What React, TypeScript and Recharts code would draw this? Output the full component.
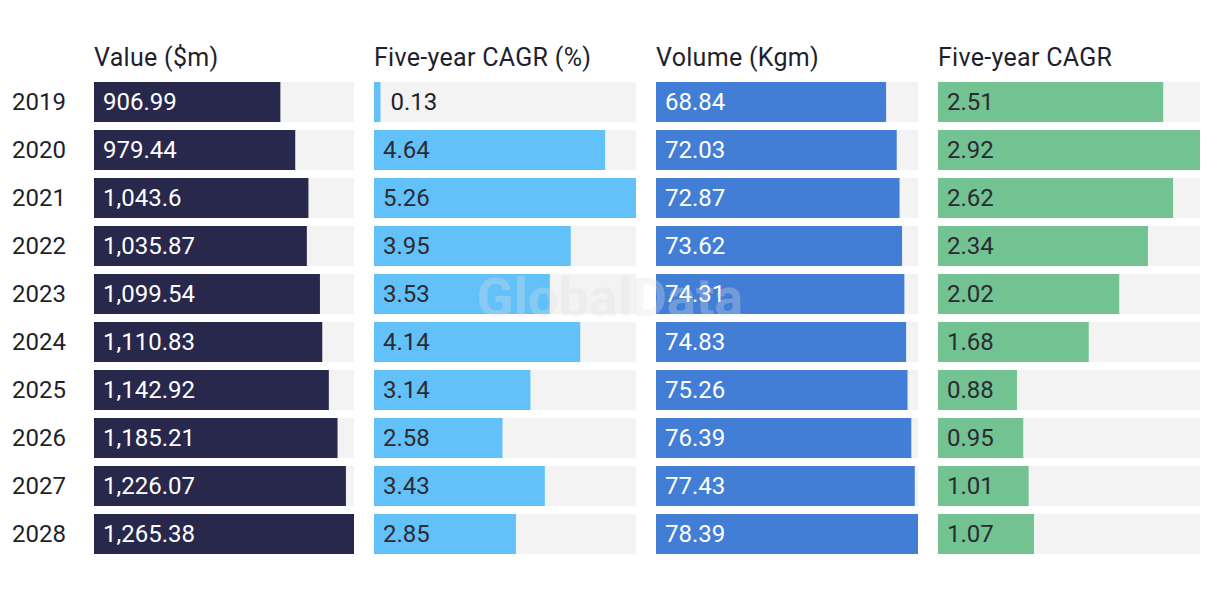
import React from 'react';
import { BarChart, Bar, XAxis, YAxis, LabelList } from 'recharts';

const years = ['2019', '2020', '2021', '2022', '2023', '2024', '2025', '2026', '2027', '2028'];
const marketValue = [906.99, 979.44, 1043.6, 1035.87, 1099.54, 1110.83, 1142.92, 1185.21, 1226.07, 1265.38];
const valueCagr = [0.13, 4.64, 5.26, 3.95, 3.53, 4.14, 3.14, 2.58, 3.43, 2.85];
const marketVolume = [68.84, 72.03, 72.87, 73.62, 74.31, 74.83, 75.26, 76.39, 77.43, 78.39];
const volumeCagr = [2.51, 2.92, 2.62, 2.34, 2.02, 1.68, 0.88, 0.95, 1.01, 1.07];
const headings = ['Value ($m)', 'Five-year CAGR (%)', 'Volume (Kgm)', 'Five-year CAGR'];

const FONT = 'Roboto, "Noto Sans", sans-serif';

const fmt = (v: number) => v.toLocaleString('en-US', { maximumFractionDigits: 2 });

type Panel = {
  title: string;
  values: number[];
  color: string;
  textColor: string;
  left: number;
  width: number;
  showYears: boolean;
};

const panels: Panel[] = [
  { title: headings[0], values: marketValue, color: '#28284c', textColor: '#ffffff', left: 0, width: 354, showYears: true },
  { title: headings[1], values: valueCagr, color: '#63c1f9', textColor: '#2b2b33', left: 374, width: 262, showYears: false },
  { title: headings[2], values: marketVolume, color: '#427ed6', textColor: '#ffffff', left: 656, width: 262, showYears: false },
  { title: headings[3], values: volumeCagr, color: '#72c292', textColor: '#2b2b33', left: 938, width: 262, showYears: false },
];

const YearTick = (props: any) => {
  const { y, payload } = props;
  return (
    <text x={12} y={y} dy="0.32em" fill="#1f1f2e" fontSize={24} fontFamily={FONT} textAnchor="start">
      {payload.value}
    </text>
  );
};

const makeLabel = (textColor: string) => (props: any) => {
  const { x, y, width, height, value } = props;
  const inside = width > 60;
  return (
    <text
      x={inside ? x + 9 : x + width + 10}
      y={y + height / 2}
      dy="0.32em"
      fill={inside ? textColor : '#1f1f2e'}
      fontSize={24}
      fontFamily={FONT}
      textAnchor="start"
    >
      {fmt(Number(value))}
    </text>
  );
};

export default function App() {
  return (
    <div style={{ position: 'absolute', left: 0, top: 0, width: 1220, height: 596, background: '#ffffff', fontFamily: FONT, overflow: 'hidden' }}>
      {panels.map((p, i) => {
        const data = years.map((yr, k) => ({ year: yr, v: p.values[k] }));
        const yW = p.showYears ? 94 : 0;
        return (
          <React.Fragment key={i}>
            <div
              style={{
                position: 'absolute',
                left: p.left + yW,
                top: 43,
                fontSize: 25,
                letterSpacing: '0.3px',
                lineHeight: '30px',
                color: '#1f1f2e',
                whiteSpace: 'nowrap',
              }}
            >
              {p.title}
            </div>
            <div style={{ position: 'absolute', left: p.left, top: 78 }}>
              <BarChart
                width={p.width}
                height={480}
                data={data}
                layout="vertical"
                margin={{ top: 0, right: 0, bottom: 0, left: 0 }}
              >
                <XAxis type="number" hide domain={[0, 'dataMax']} />
                <YAxis
                  type="category"
                  dataKey="year"
                  width={yW}
                  hide={!p.showYears}
                  axisLine={false}
                  tickLine={false}
                  tick={<YearTick />}
                  interval={0}
                />
                <Bar dataKey="v" fill={p.color} barSize={40} background={{ fill: '#f3f3f3' }} isAnimationActive={false}>
                  <LabelList dataKey="v" content={makeLabel(p.textColor)} />
                </Bar>
              </BarChart>
            </div>
          </React.Fragment>
        );
      })}
      <div
        style={{
          position: 'absolute',
          left: 0,
          width: 1220,
          top: 266,
          textAlign: 'center',
          fontSize: 54,
          fontWeight: 700,
          lineHeight: '64px',
          color: 'rgba(225,225,225,0.3)',
          pointerEvents: 'none',
          fontFamily: FONT,
        }}
      >
        GlobalData
      </div>
    </div>
  );
}
